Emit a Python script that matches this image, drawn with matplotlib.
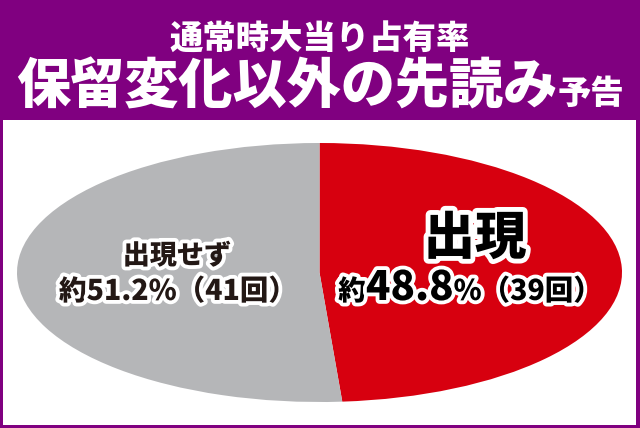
import matplotlib
matplotlib.use("Agg")
import matplotlib.pyplot as plt
import matplotlib.patheffects as pe
from matplotlib.patches import Rectangle

plt.rcParams['font.family'] = ['Noto Sans CJK JP', 'DejaVu Sans']

# ---- data ----
labels = ["出現", "出現せず"]
shares = [48.8, 51.2]
counts = [39, 41]
colors = ["#d7000f", "#b5b6b8"]
title1 = "通常時大当り占有率"
title2 = "保留変化以外の先読み"
title2_suffix = "予告"

W, H = 640, 428
fig = plt.figure(figsize=(W / 100, H / 100), dpi=100)
fig.patch.set_facecolor("#800080")

bg = fig.add_axes([0, 0, 1, 1], zorder=0)
bg.set_xlim(0, W)
bg.set_ylim(H, 0)
bg.axis("off")
bg.add_patch(Rectangle((3, 119.5), 633, 305, facecolor="white", edgecolor="none"))

# pie (stretched to ellipse)
x0, x1, y0, y1 = 17, 622, 143, 402
pax = fig.add_axes([x0 / W, (H - y1) / H, (x1 - x0) / W, (y1 - y0) / H], zorder=1)
pax.pie(shares, colors=colors, startangle=90, counterclock=False, radius=1,
        wedgeprops=dict(linewidth=0))
pax.set_aspect("auto")
pax.set_xlim(-1, 1)
pax.set_ylim(-1, 1)
pax.axis("off")

top = fig.add_axes([0, 0, 1, 1], zorder=2)
top.set_xlim(0, W)
top.set_ylim(H, 0)
top.axis("off")
top.patch.set_alpha(0)

renderer = fig.canvas.get_renderer()


def row(segments, cx, baseline, color, stroke=None, weight="heavy"):
    """segments: list of (text, size). Centered at cx on a common baseline."""
    arts, widths = [], []
    for txt, size in segments:
        t = top.text(0, baseline, txt, fontsize=size, fontweight=weight, color=color,
                     va="baseline", ha="left")
        if stroke:
            t.set_path_effects([pe.withStroke(linewidth=stroke, foreground="white")])
        bb = t.get_window_extent(renderer=renderer)
        arts.append(t)
        widths.append(bb.width)
    x = cx - sum(widths) / 2
    for t, w in zip(arts, widths):
        t.set_x(x)
        x += w


# header
row([(title1, 24)], 320, 49, "white")
row([(title2, 39), (title2_suffix, 24)], 320, 104, "white")

# gray label
row([(labels[1], 19.5)], 177, 264, "#231815", stroke=5.5)
row([("約", 20), (f"{shares[1]}%（{counts[1]}回）", 20.5)], 178, 300,
    "#231815", stroke=5.5)

# red label
row([(labels[0], 37)], 475, 254, "black", stroke=7)
row([("約", 20), (f"{shares[0]}", 29), (f"%（{counts[0]}回）", 20.5)], 470, 300,
    "black", stroke=5.5)

fig.savefig("out.png", dpi=100, facecolor=fig.get_facecolor())
